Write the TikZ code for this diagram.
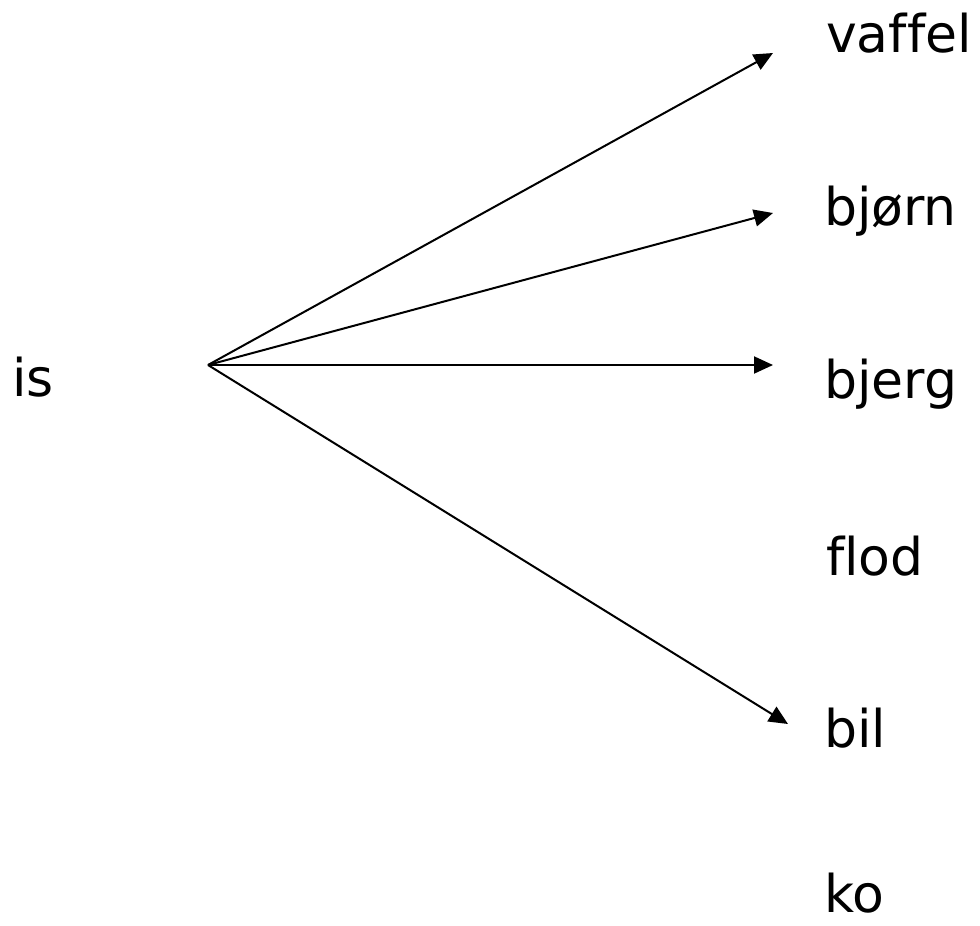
\documentclass[tikz,border=0pt]{standalone}
\usepackage{fontspec}
\setmainfont[Ligatures=NoCommon]{DejaVu Sans}
\usetikzlibrary{arrows.meta}
\tikzset{
  word/.style={anchor=base west, inner sep=0pt, font=\fontsize{52}{60}\selectfont},
  link/.style={line width=2pt, -{Triangle[length=19pt,width=17pt]}}
}
\begin{document}
\begin{tikzpicture}[x=1pt,y=-1pt]
\useasboundingbox (0,0) rectangle (980,926);
\node[word] (is) at (12,396) {is};
\node[word] (vaffel) at (826,52) {vaffel};
\node[word] (bjorn) at (824,225) {bjørn};
\node[word] (bjerg) at (824,398) {bjerg};
\node[word] (flod) at (826,575) {flod};
\node[word] (bil) at (824,747) {bil};
\node[word] (ko) at (824,912) {ko};
\coordinate (src) at (208,365);
\coordinate (tvaffel) at (773,53);
\coordinate (tbjorn) at (773,213);
\coordinate (tbjerg) at (773,365);
\coordinate (tbil) at (788,724);
\draw[link] (src) -- (tvaffel);
\draw[link] (src) -- (tbjorn);
\draw[link] (src) -- (tbjerg);
\draw[link] (src) -- (tbil);
\end{tikzpicture}
\end{document}
